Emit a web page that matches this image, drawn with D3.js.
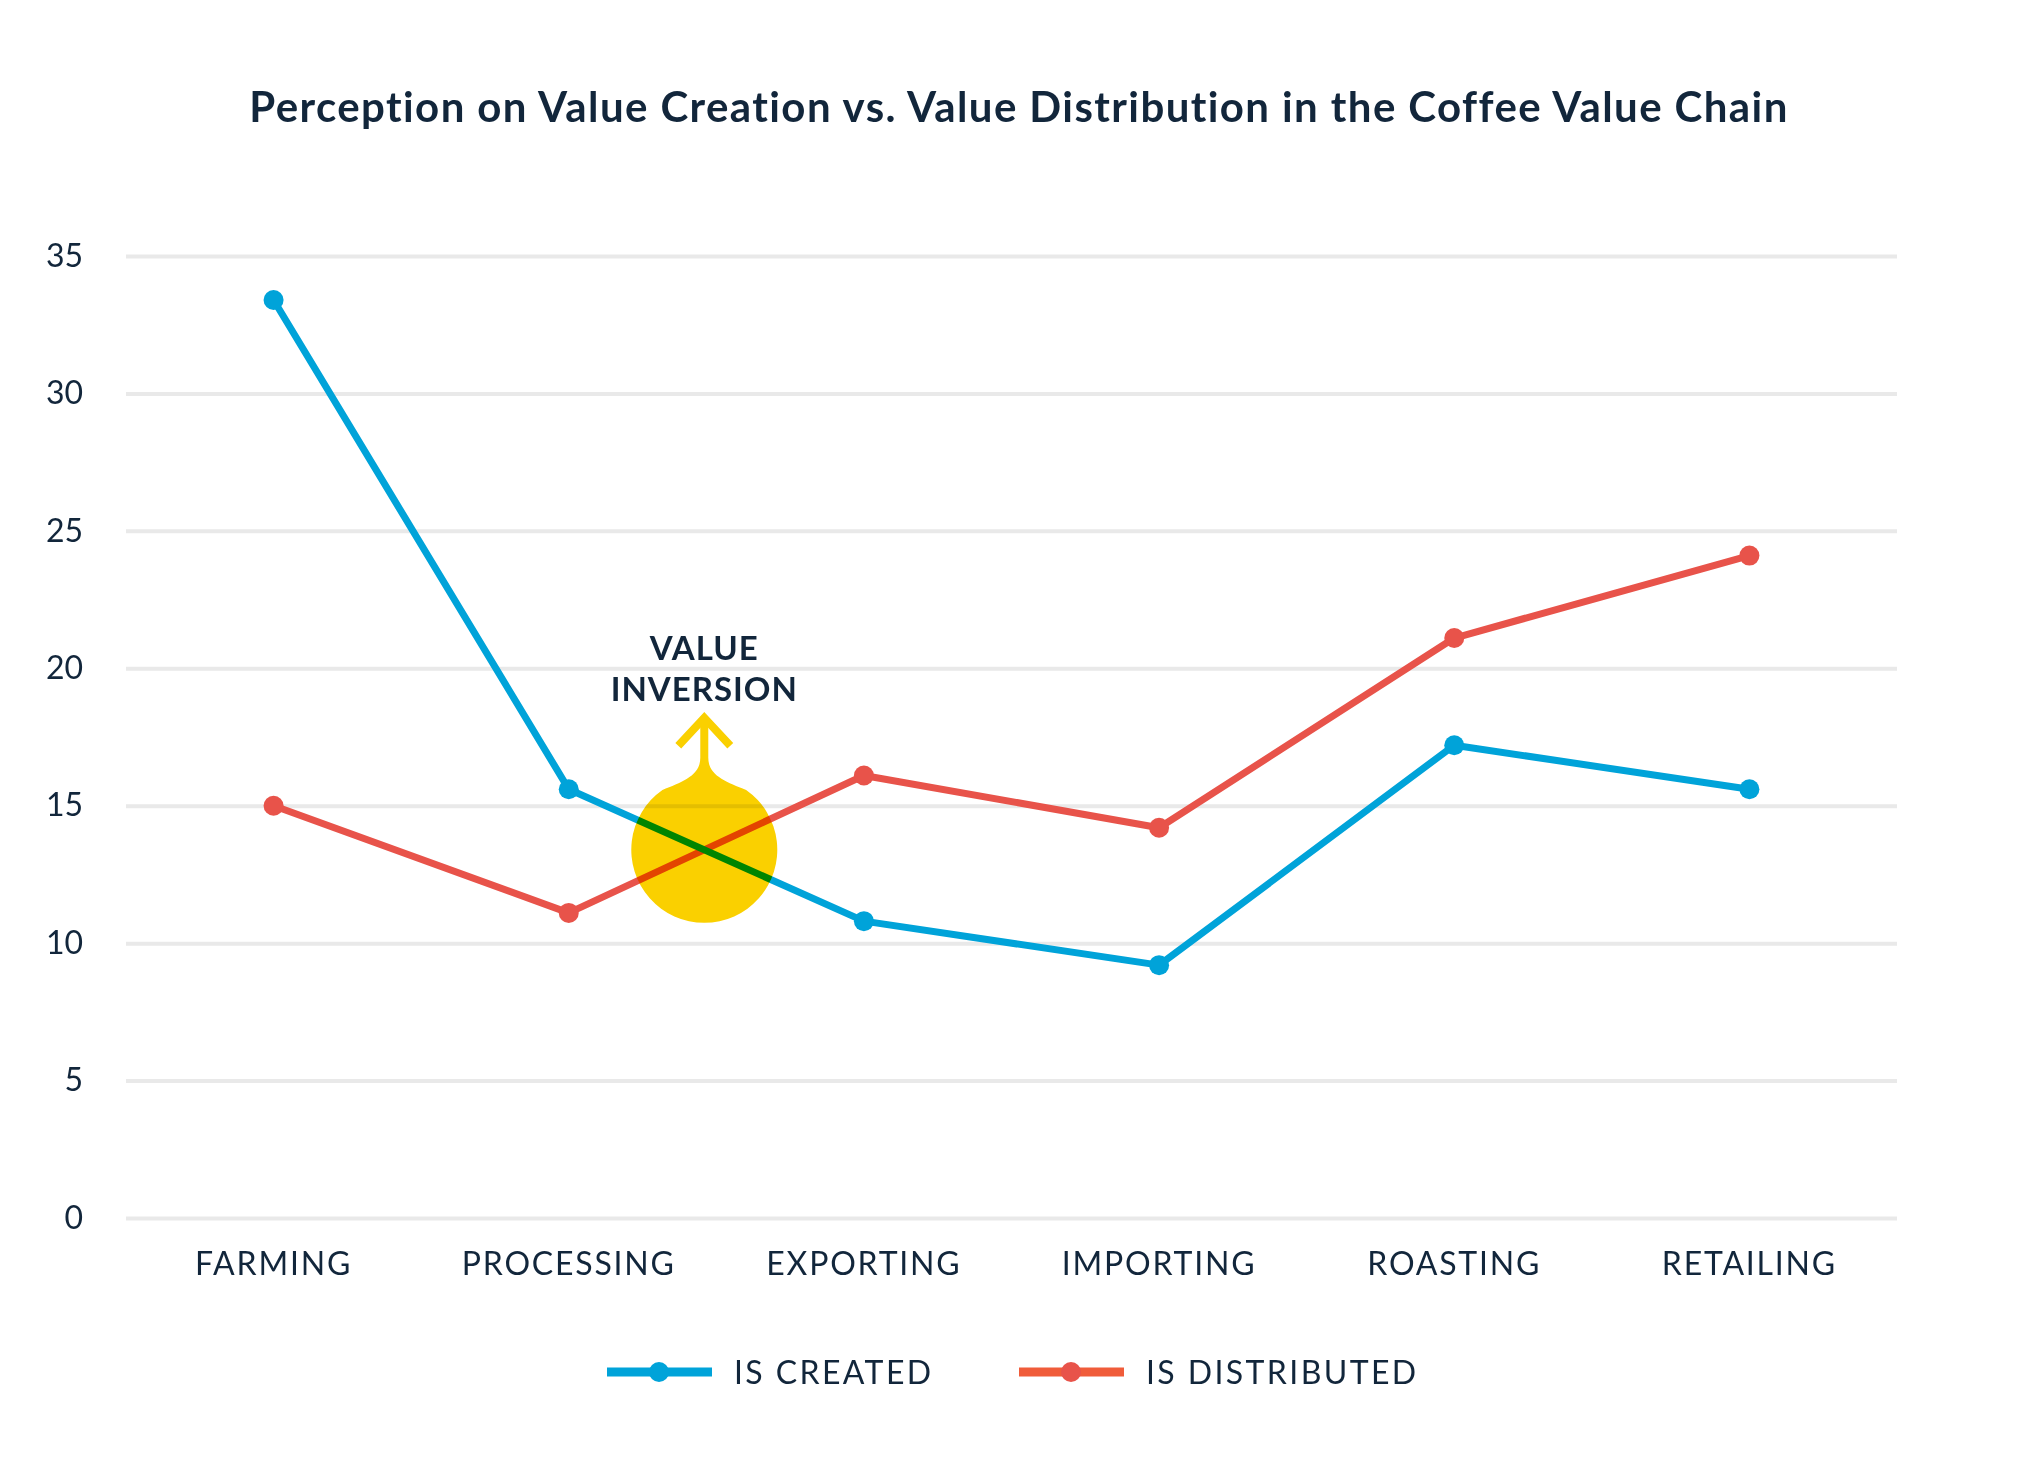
<!DOCTYPE html>
<html>
<head>
<meta charset="utf-8">
<script src="https://cdn.jsdelivr.net/npm/d3@7"></script>
<style>
  html, body { margin: 0; padding: 0; background: #fff; }
  text { font-family: "Lato", "Open Sans", sans-serif; fill: #12263b; font-variant-ligatures: none; }
</style>
</head>
<body>
<div id="chart"></div>
<script>
const categories = ["FARMING", "PROCESSING", "EXPORTING", "IMPORTING", "ROASTING", "RETAILING"];
const isCreated = [33.4, 15.6, 10.8, 9.2, 17.2, 15.6];
const isDistributed = [15.0, 11.1, 16.1, 14.2, 21.1, 24.1];
const yTicks = [0, 5, 10, 15, 20, 25, 30, 35];
const seriesNames = ["IS CREATED", "IS DISTRIBUTED"];
const annotationLines = ["VALUE", "INVERSION"];
const titleText = "Perception on Value Creation vs. Value Distribution in the Coffee Value Chain";

const colors = { created: "#00a3d9", distributed: "#e8534a", distributedLegend: "#f05c3a", yellow: "#fad000", text: "#12263b", grid: "#e9e9e9" };

const width = 2022;
const height = 1459;
const margin = { top: 256, right: 125, bottom: 241, left: 126 };
const usableArea = {
  top: margin.top,
  left: margin.left,
  bottom: height - margin.bottom,
  right: width - margin.right,
  width: width - margin.left - margin.right,
  height: height - margin.top - margin.bottom,
};

const svg = d3.select("#chart")
  .append("svg")
  .attr("width", width)
  .attr("height", height)
  .attr("viewBox", `0 0 ${width} ${height}`);

svg.append("rect").attr("width", width).attr("height", height).attr("fill", "#fff");

const xScale = d3.scaleBand()
  .domain(categories)
  .range([usableArea.left, usableArea.right]);

const yScale = d3.scaleLinear()
  .domain([0, 35])
  .range([usableArea.bottom, usableArea.top]);

const xPos = (i) => xScale(categories[i]) + xScale.bandwidth() / 2;

// title
svg.append("text")
  .attr("x", 1019)
  .attr("y", 122)
  .attr("text-anchor", "middle")
  .style("font-size", "42px")
  .style("font-weight", 700)
  .style("letter-spacing", "1.4px")
  .text(titleText);

// gridlines + y labels
const yAxis = svg.append("g")
  .attr("transform", `translate(${usableArea.left}, 0)`)
  .call(d3.axisLeft(yScale).tickValues(yTicks).tickSize(-usableArea.width).tickPadding(43));
yAxis.select(".domain").remove();
yAxis.selectAll("line").attr("stroke", colors.grid).attr("stroke-width", 4);
yAxis.selectAll("text")
  .attr("fill", colors.text)
  .style("font-size", "32px")
  .style("font-family", "Lato")
  .style("font-weight", 400);

// x labels
const xAxis = svg.append("g")
  .attr("transform", `translate(0, ${usableArea.bottom})`)
  .call(d3.axisBottom(xScale).tickSize(0).tickPadding(34));
xAxis.select(".domain").remove();
xAxis.selectAll("text")
  .attr("fill", colors.text)
  .style("font-size", "32px")
  .style("font-family", "Lato")
  .style("letter-spacing", "1.8px");

// lines
const line = d3.line()
  .x((d, i) => xPos(i))
  .y((d) => yScale(d));

const series = [
  { key: "distributed", values: isDistributed, color: colors.distributed },
  { key: "created", values: isCreated, color: colors.created },
];

series.forEach((s) => {
  const g = svg.append("g").attr("class", "series-" + s.key);
  g.append("path")
    .datum(s.values)
    .attr("d", line)
    .attr("fill", "none")
    .attr("stroke", s.color)
    .attr("stroke-width", 7)
    .attr("stroke-linejoin", "round");
  g.selectAll("circle")
    .data(s.values)
    .join("circle")
    .attr("cx", (d, i) => xPos(i))
    .attr("cy", (d) => yScale(d))
    .attr("r", 10)
    .attr("fill", s.color);
});

// crossing between PROCESSING and EXPORTING
const i0 = 1;
const bx0 = xPos(i0), bx1 = xPos(i0 + 1);
const b0 = yScale(isCreated[i0]), b1 = yScale(isCreated[i0 + 1]);
const r0 = yScale(isDistributed[i0]), r1 = yScale(isDistributed[i0 + 1]);
const t = (r0 - b0) / ((b1 - b0) - (r1 - r0));
const cx = bx0 + t * (bx1 - bx0);
const cy = b0 + t * (b1 - b0);

// droplet with stem, multiplied over the lines
const R = 73;
const shoulder = (35 * Math.PI) / 180;
const leftX = cx - R * Math.sin(shoulder);
const leftY = cy - R * Math.cos(shoulder);
const neckY = cy - 92;
const stemTop = cy - 130;
const drop = d3.path();
drop.moveTo(cx - 4, stemTop);
drop.lineTo(cx - 4, neckY);
drop.bezierCurveTo(cx - 4, neckY + 18, cx - 22, neckY + 24, leftX, leftY);
drop.arc(cx, cy, R, -Math.PI / 2 - shoulder, -Math.PI / 2 + shoulder, true);
drop.bezierCurveTo(cx + 22, neckY + 24, cx + 4, neckY + 18, cx + 4, neckY);
drop.lineTo(cx + 4, stemTop);
drop.closePath();

svg.append("path")
  .attr("d", drop.toString())
  .attr("fill", colors.yellow)
  .style("mix-blend-mode", "multiply");

// arrow head
svg.append("path")
  .attr("d", `M${cx - 26},${cy - 104} L${cx},${cy - 132} L${cx + 26},${cy - 104}`)
  .attr("fill", "none")
  .attr("stroke", colors.yellow)
  .attr("stroke-width", 8);

// annotation text
svg.append("text")
  .attr("x", cx)
  .attr("y", cy - 190)
  .attr("text-anchor", "middle")
  .style("font-size", "33px")
  .style("font-weight", 700)
  .style("letter-spacing", "1px")
  .selectAll("tspan")
  .data(annotationLines)
  .join("tspan")
  .attr("x", cx)
  .attr("dy", (d, i) => (i === 0 ? 0 : 41))
  .text((d) => d);

// legend
const legendItems = [
  { name: seriesNames[0], color: colors.created, lineColor: colors.created, x: 607 },
  { name: seriesNames[1], color: colors.distributed, lineColor: colors.distributedLegend, x: 1019 },
];
const legendY = 1372;
const legend = svg.append("g").attr("class", "legend");
legendItems.forEach((d) => {
  const g = legend.append("g").attr("transform", `translate(${d.x}, ${legendY})`);
  g.append("line")
    .attr("x1", 0).attr("x2", 105)
    .attr("stroke", d.lineColor)
    .attr("stroke-width", 9);
  g.append("circle").attr("cx", 52).attr("r", 10).attr("fill", d.color);
  g.append("text")
    .attr("x", 127)
    .attr("dy", "0.36em")
    .style("font-size", "32px")
    .style("letter-spacing", "2.4px")
    .text(d.name);
});
</script>
</body>
</html>
